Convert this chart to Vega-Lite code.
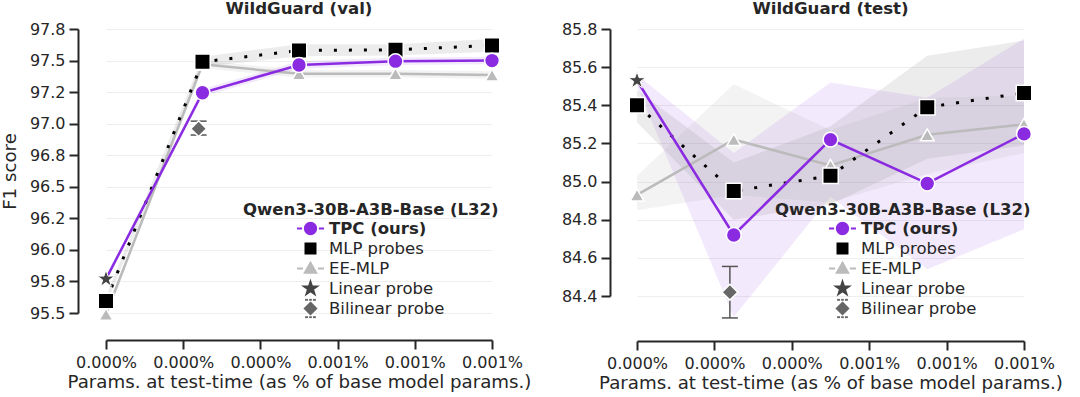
{
  "$schema": "https://vega.github.io/schema/vega-lite/v6.json",
  "padding": {"left": 0, "top": 1, "right": 2, "bottom": 2},
  "spacing": 30,
  "config": {
    "font": "DejaVu Sans",
    "view": {"stroke": null},
    "axis": {
      "domainColor": "#262626", "domainWidth": 2, "tickColor": "#262626", "tickWidth": 2, "tickSize": 9,
      "labelFontSize": 16, "labelColor": "#262626", "labelPadding": 4,
      "titleFontSize": 18.2, "titleFontWeight": "normal", "titleColor": "#262626",
      "gridColor": "#eeeeee", "gridWidth": 1, "labelOverlap": false, "labelBound": false, "labelFlush": false
    },
    "title": {"fontSize": 16.6, "fontWeight": "bold", "color": "#262626", "offset": 3},
    "legend": {
      "orient": "none", "titleFontSize": 16.5, "titleFontWeight": "bold", "titleColor": "#262626", "titleLimit": 0,
      "labelFontSize": 16.5, "labelColor": "#262626", "titlePadding": 0, "padding": 0,
      "symbolSize": 729, "symbolStrokeWidth": 2, "symbolOpacity": 1, "clipHeight": 20, "rowPadding": 0,
      "symbolOffset": 53, "labelOffset": 4
    }
  },
  "resolve": {"scale": {"fill": "independent", "stroke": "independent", "shape": "independent", "x": "independent", "y": "independent"}},
  "datasets": {
    "val": [
      {"method": "TPC (ours)", "x": 0, "y": 95.77, "lo": 95.75, "hi": 95.79},
      {"method": "TPC (ours)", "x": 0.00025, "y": 97.245, "lo": 97.215, "hi": 97.275},
      {"method": "TPC (ours)", "x": 0.0005, "y": 97.465, "lo": 97.435, "hi": 97.495},
      {"method": "TPC (ours)", "x": 0.00075, "y": 97.495, "lo": 97.465, "hi": 97.525},
      {"method": "TPC (ours)", "x": 0.001, "y": 97.5, "lo": 97.47, "hi": 97.53},
      {"method": "MLP probes", "x": 0, "y": 95.595, "lo": 95.56, "hi": 95.63},
      {"method": "MLP probes", "x": 0.00025, "y": 97.49, "lo": 97.45, "hi": 97.53},
      {"method": "MLP probes", "x": 0.0005, "y": 97.58, "lo": 97.535, "hi": 97.63},
      {"method": "MLP probes", "x": 0.00075, "y": 97.585, "lo": 97.54, "hi": 97.63},
      {"method": "MLP probes", "x": 0.001, "y": 97.62, "lo": 97.57, "hi": 97.67},
      {"method": "EE-MLP", "x": 0, "y": 95.49, "lo": 95.46, "hi": 95.52},
      {"method": "EE-MLP", "x": 0.00025, "y": 97.47, "lo": 97.44, "hi": 97.5},
      {"method": "EE-MLP", "x": 0.0005, "y": 97.395, "lo": 97.365, "hi": 97.425},
      {"method": "EE-MLP", "x": 0.00075, "y": 97.395, "lo": 97.365, "hi": 97.425},
      {"method": "EE-MLP", "x": 0.001, "y": 97.385, "lo": 97.355, "hi": 97.415},
      {"method": "Linear probe", "x": 0, "y": 95.77},
      {"method": "Bilinear probe", "x": 0.00024, "y": 96.96, "lo": 96.91, "hi": 97.02}
    ],
    "test": [
      {"method": "TPC (ours)", "x": 0, "y": 85.53, "lo": 85.5, "hi": 85.56},
      {"method": "TPC (ours)", "x": 0.00025, "y": 84.72, "lo": 84.29, "hi": 85.15},
      {"method": "TPC (ours)", "x": 0.0005, "y": 85.22, "lo": 84.92, "hi": 85.52},
      {"method": "TPC (ours)", "x": 0.00075, "y": 84.99, "lo": 84.54, "hi": 85.44},
      {"method": "TPC (ours)", "x": 0.001, "y": 85.25, "lo": 84.75, "hi": 85.75},
      {"method": "MLP probes", "x": 0, "y": 85.4, "lo": 85.31, "hi": 85.48},
      {"method": "MLP probes", "x": 0.00025, "y": 84.95, "lo": 84.8, "hi": 85.1},
      {"method": "MLP probes", "x": 0.0005, "y": 85.03, "lo": 84.88, "hi": 85.29},
      {"method": "MLP probes", "x": 0.00075, "y": 85.39, "lo": 85.12, "hi": 85.66},
      {"method": "MLP probes", "x": 0.001, "y": 85.465, "lo": 85.19, "hi": 85.74},
      {"method": "EE-MLP", "x": 0, "y": 84.93, "lo": 84.85, "hi": 85.03},
      {"method": "EE-MLP", "x": 0.00025, "y": 85.22, "lo": 84.93, "hi": 85.51},
      {"method": "EE-MLP", "x": 0.0005, "y": 85.085, "lo": 84.89, "hi": 85.27},
      {"method": "EE-MLP", "x": 0.00075, "y": 85.245, "lo": 85.04, "hi": 85.44},
      {"method": "EE-MLP", "x": 0.001, "y": 85.3, "lo": 85.15, "hi": 85.45},
      {"method": "Linear probe", "x": 0, "y": 85.53},
      {"method": "Bilinear probe", "x": 0.00024, "y": 84.42, "lo": 84.285, "hi": 84.555}
    ]
  },
  "hconcat": [
    {
      "title": {"text": "WildGuard (val)", "fontSize": 16.6, "fontWeight": "bold", "offset": 3},
      "width": 386, "height": 284,
      "data": {"name": "val"},
      "encoding": {
        "x": {"field": "x", "type": "quantitative", "title": "Params. at test-time (as % of base model params.)",
          "scale": {"domain": [0, 0.001], "nice": false, "zero": false},
          "axis": {"values": [0, 0.0002, 0.0004, 0.0006, 0.0008, 0.001], "labelExpr": "format(datum.value, '.3f') + '%'", "offset": 27, "grid": false, "labelPadding": 5, "titlePadding": 3}},
        "y": {"field": "y", "type": "quantitative", "title": "F1 score",
          "scale": {"domain": [95.5, 97.75], "nice": false, "zero": false},
          "axis": {"values": [95.5, 95.75, 96, 96.25, 96.5, 96.75, 97, 97.25, 97.5, 97.75], "labelExpr": "format(datum.value + ((datum.value * 4) % 4 == 3 ? 0.01 : -0.01), '.1f')", "offset": 28, "grid": true, "titlePadding": 10}}
      },
      "layer": [
        {"transform": [{"filter": "datum.method == 'TPC (ours)'"}], "mark": {"type": "area", "color": "#8a2be2", "opacity": 0.1}, "encoding": {"y": {"field": "lo", "type": "quantitative", "title": "F1 score"}, "y2": {"field": "hi"}}},
        {"transform": [{"filter": "datum.method == 'EE-MLP'"}], "mark": {"type": "area", "color": "#b0b0b0", "opacity": 0.15}, "encoding": {"y": {"field": "lo", "type": "quantitative", "title": "F1 score"}, "y2": {"field": "hi"}}},
        {"transform": [{"filter": "datum.method == 'MLP probes'"}], "mark": {"type": "area", "color": "#808080", "opacity": 0.15}, "encoding": {"y": {"field": "lo", "type": "quantitative", "title": "F1 score"}, "y2": {"field": "hi"}}},
        {"transform": [{"filter": "datum.method == 'EE-MLP'"}], "mark": {"type": "line", "color": "#bbbbbb", "strokeWidth": 2.5}},
        {"transform": [{"filter": "datum.method == 'MLP probes'"}], "mark": {"type": "line", "color": "#000000", "strokeWidth": 3, "strokeDash": [3, 12]}},
        {"transform": [{"filter": "datum.method == 'TPC (ours)'"}], "mark": {"type": "line", "color": "#8a2be2", "strokeWidth": 2.5}},
        {"transform": [{"filter": "datum.method == 'EE-MLP'"}], "mark": {"type": "point", "shape": "triangle-up", "filled": true, "fill": "#bbbbbb", "stroke": "#ffffff", "strokeWidth": 1.5, "size": 190, "opacity": 1}},
        {"transform": [{"filter": "datum.method == 'MLP probes'"}], "mark": {"type": "point", "shape": "square", "filled": true, "fill": "#000000", "stroke": "#ffffff", "strokeWidth": 1.5, "size": 240, "opacity": 1}},
        {"transform": [{"filter": "datum.method == 'TPC (ours)' && datum.x > 0"}], "mark": {"type": "point", "shape": "circle", "filled": true, "fill": "#8a2be2", "stroke": "#ffffff", "strokeWidth": 1.5, "size": 220, "opacity": 1}},
        {"transform": [{"filter": "datum.method == 'Bilinear probe'"}], "mark": {"type": "rule", "color": "#555555", "strokeWidth": 1.5}, "encoding": {"y": {"field": "lo", "type": "quantitative", "title": "F1 score"}, "y2": {"field": "hi"}}},
        {"transform": [{"filter": "datum.method == 'Bilinear probe'"}], "mark": {"type": "tick", "orient": "horizontal", "size": 16, "thickness": 1.5, "color": "#555555", "opacity": 1}, "encoding": {"y": {"field": "lo", "type": "quantitative", "title": "F1 score"}}},
        {"transform": [{"filter": "datum.method == 'Bilinear probe'"}], "mark": {"type": "tick", "orient": "horizontal", "size": 16, "thickness": 1.5, "color": "#555555", "opacity": 1}, "encoding": {"y": {"field": "hi", "type": "quantitative", "title": "F1 score"}}},
        {"transform": [{"filter": "datum.method == 'Bilinear probe'"}], "mark": {"type": "point", "shape": "diamond", "filled": true, "fill": "#666666", "stroke": "#ffffff", "strokeWidth": 1.5, "size": 250, "opacity": 1}},
        {"transform": [{"filter": "datum.method == 'Linear probe'"}], "mark": {"type": "point", "shape": "M0,-1L0.2245,-0.309L0.951,-0.309L0.363,0.118L0.588,0.809L0,0.382L-0.588,0.809L-0.363,0.118L-0.951,-0.309L-0.2245,-0.309Z", "filled": true, "fill": "#444444", "stroke": "#ffffff", "strokeWidth": 1, "size": 330, "opacity": 1}},
        {"mark": {"type": "point", "filled": true, "opacity": 0},
          "encoding": {
            "fill": {"field": "method", "type": "nominal", "title": "Qwen3-30B-A3B-Base (L32)",
              "scale": {"domain": ["TPC (ours)", "MLP probes", "EE-MLP", "Linear probe", "Bilinear probe"], "range": ["#8a2be2", "#000000", "#bbbbbb", "#444444", "#666666"]},
              "legend": {"legendX": 137, "legendY": 173, "labelFontWeight": {"expr": "datum.label == 'TPC (ours)' ? 'bold' : 'normal'"}}},
            "stroke": {"field": "method", "type": "nominal", "title": "Qwen3-30B-A3B-Base (L32)",
              "scale": {"domain": ["TPC (ours)", "MLP probes", "EE-MLP", "Linear probe", "Bilinear probe"], "range": ["#8a2be2", "#000000", "#bbbbbb", "#444444", "#666666"]},
              "legend": {"legendX": 137, "legendY": 173, "labelFontWeight": {"expr": "datum.label == 'TPC (ours)' ? 'bold' : 'normal'"}}},
            "shape": {"field": "method", "type": "nominal", "title": "Qwen3-30B-A3B-Base (L32)",
              "scale": {"domain": ["TPC (ours)", "MLP probes", "EE-MLP", "Linear probe", "Bilinear probe"], "range": [
                "M-1,0L-0.62,0M0.62,0L1,0M0.42,0A0.42,0.42,0,1,1,-0.42,0A0.42,0.42,0,1,1,0.42,0Z",
                "M-0.37,-0.37L0.37,-0.37L0.37,0.37L-0.37,0.37Z",
                "M-1,0L-0.55,0M0.55,0L1,0M0,-0.42L0.42,0.32L-0.42,0.32Z",
                "M0,-0.5L0.112,-0.155L0.476,-0.155L0.182,0.059L0.294,0.405L0,0.191L-0.294,0.405L-0.182,0.059L-0.476,-0.155L-0.112,-0.155Z",
                "M0,-0.42L0.42,0L0,0.42L-0.42,0Z M-0.4,-0.64L-0.18,-0.64M-0.1,-0.64L0.1,-0.64M0.18,-0.64L0.4,-0.64M-0.4,0.64L-0.18,0.64M-0.1,0.64L0.1,0.64M0.18,0.64L0.4,0.64"]},
              "legend": {"legendX": 137, "legendY": 173, "labelFontWeight": {"expr": "datum.label == 'TPC (ours)' ? 'bold' : 'normal'"}}}
          }
        }
      ]
    },
    {
      "title": {"text": "WildGuard (test)", "fontSize": 16.6, "fontWeight": "bold", "offset": 3},
      "width": 387, "height": 267,
      "data": {"name": "test"},
      "encoding": {
        "x": {"field": "x", "type": "quantitative", "title": "Params. at test-time (as % of base model params.)",
          "scale": {"domain": [0, 0.001], "nice": false, "zero": false},
          "axis": {"values": [0, 0.0002, 0.0004, 0.0006, 0.0008, 0.001], "labelExpr": "format(datum.value, '.3f') + '%'", "offset": 45, "grid": false, "labelPadding": 5, "titlePadding": 3}},
        "y": {"field": "y", "type": "quantitative", "title": null,
          "scale": {"domain": [84.4, 85.8], "nice": false, "zero": false},
          "axis": {"values": [84.4, 84.6, 84.8, 85, 85.2, 85.4, 85.6, 85.8], "format": ".1f", "offset": 27, "grid": true}}
      },
      "layer": [
        {"transform": [{"filter": "datum.method == 'TPC (ours)'"}], "mark": {"type": "area", "color": "#8a2be2", "opacity": 0.1}, "encoding": {"y": {"field": "lo", "type": "quantitative", "title": null}, "y2": {"field": "hi"}}},
        {"transform": [{"filter": "datum.method == 'EE-MLP'"}], "mark": {"type": "area", "color": "#b0b0b0", "opacity": 0.15}, "encoding": {"y": {"field": "lo", "type": "quantitative", "title": null}, "y2": {"field": "hi"}}},
        {"transform": [{"filter": "datum.method == 'MLP probes'"}], "mark": {"type": "area", "color": "#808080", "opacity": 0.15}, "encoding": {"y": {"field": "lo", "type": "quantitative", "title": null}, "y2": {"field": "hi"}}},
        {"transform": [{"filter": "datum.method == 'EE-MLP'"}], "mark": {"type": "line", "color": "#bbbbbb", "strokeWidth": 2.5}},
        {"transform": [{"filter": "datum.method == 'MLP probes'"}], "mark": {"type": "line", "color": "#000000", "strokeWidth": 3, "strokeDash": [3, 12]}},
        {"transform": [{"filter": "datum.method == 'TPC (ours)'"}], "mark": {"type": "line", "color": "#8a2be2", "strokeWidth": 2.5}},
        {"transform": [{"filter": "datum.method == 'EE-MLP'"}], "mark": {"type": "point", "shape": "triangle-up", "filled": true, "fill": "#bbbbbb", "stroke": "#ffffff", "strokeWidth": 1.5, "size": 190, "opacity": 1}},
        {"transform": [{"filter": "datum.method == 'MLP probes'"}], "mark": {"type": "point", "shape": "square", "filled": true, "fill": "#000000", "stroke": "#ffffff", "strokeWidth": 1.5, "size": 240, "opacity": 1}},
        {"transform": [{"filter": "datum.method == 'TPC (ours)' && datum.x > 0"}], "mark": {"type": "point", "shape": "circle", "filled": true, "fill": "#8a2be2", "stroke": "#ffffff", "strokeWidth": 1.5, "size": 220, "opacity": 1}},
        {"transform": [{"filter": "datum.method == 'Bilinear probe'"}], "mark": {"type": "rule", "color": "#555555", "strokeWidth": 1.5}, "encoding": {"y": {"field": "lo", "type": "quantitative", "title": null}, "y2": {"field": "hi"}}},
        {"transform": [{"filter": "datum.method == 'Bilinear probe'"}], "mark": {"type": "tick", "orient": "horizontal", "size": 16, "thickness": 1.5, "color": "#555555", "opacity": 1}, "encoding": {"y": {"field": "lo", "type": "quantitative", "title": null}}},
        {"transform": [{"filter": "datum.method == 'Bilinear probe'"}], "mark": {"type": "tick", "orient": "horizontal", "size": 16, "thickness": 1.5, "color": "#555555", "opacity": 1}, "encoding": {"y": {"field": "hi", "type": "quantitative", "title": null}}},
        {"transform": [{"filter": "datum.method == 'Bilinear probe'"}], "mark": {"type": "point", "shape": "diamond", "filled": true, "fill": "#666666", "stroke": "#ffffff", "strokeWidth": 1.5, "size": 250, "opacity": 1}},
        {"transform": [{"filter": "datum.method == 'Linear probe'"}], "mark": {"type": "point", "shape": "M0,-1L0.2245,-0.309L0.951,-0.309L0.363,0.118L0.588,0.809L0,0.382L-0.588,0.809L-0.363,0.118L-0.951,-0.309L-0.2245,-0.309Z", "filled": true, "fill": "#444444", "stroke": "#ffffff", "strokeWidth": 1, "size": 330, "opacity": 1}},
        {"mark": {"type": "point", "filled": true, "opacity": 0},
          "encoding": {
            "fill": {"field": "method", "type": "nominal", "title": "Qwen3-30B-A3B-Base (L32)",
              "scale": {"domain": ["TPC (ours)", "MLP probes", "EE-MLP", "Linear probe", "Bilinear probe"], "range": ["#8a2be2", "#000000", "#bbbbbb", "#444444", "#666666"]},
              "legend": {"legendX": 138, "legendY": 173, "labelFontWeight": {"expr": "datum.label == 'TPC (ours)' ? 'bold' : 'normal'"}}},
            "stroke": {"field": "method", "type": "nominal", "title": "Qwen3-30B-A3B-Base (L32)",
              "scale": {"domain": ["TPC (ours)", "MLP probes", "EE-MLP", "Linear probe", "Bilinear probe"], "range": ["#8a2be2", "#000000", "#bbbbbb", "#444444", "#666666"]},
              "legend": {"legendX": 138, "legendY": 173, "labelFontWeight": {"expr": "datum.label == 'TPC (ours)' ? 'bold' : 'normal'"}}},
            "shape": {"field": "method", "type": "nominal", "title": "Qwen3-30B-A3B-Base (L32)",
              "scale": {"domain": ["TPC (ours)", "MLP probes", "EE-MLP", "Linear probe", "Bilinear probe"], "range": [
                "M-1,0L-0.62,0M0.62,0L1,0M0.42,0A0.42,0.42,0,1,1,-0.42,0A0.42,0.42,0,1,1,0.42,0Z",
                "M-0.37,-0.37L0.37,-0.37L0.37,0.37L-0.37,0.37Z",
                "M-1,0L-0.55,0M0.55,0L1,0M0,-0.42L0.42,0.32L-0.42,0.32Z",
                "M0,-0.5L0.112,-0.155L0.476,-0.155L0.182,0.059L0.294,0.405L0,0.191L-0.294,0.405L-0.182,0.059L-0.476,-0.155L-0.112,-0.155Z",
                "M0,-0.42L0.42,0L0,0.42L-0.42,0Z M-0.4,-0.64L-0.18,-0.64M-0.1,-0.64L0.1,-0.64M0.18,-0.64L0.4,-0.64M-0.4,0.64L-0.18,0.64M-0.1,0.64L0.1,0.64M0.18,0.64L0.4,0.64"]},
              "legend": {"legendX": 138, "legendY": 173, "labelFontWeight": {"expr": "datum.label == 'TPC (ours)' ? 'bold' : 'normal'"}}}
          }
        }
      ]
    }
  ]
}
